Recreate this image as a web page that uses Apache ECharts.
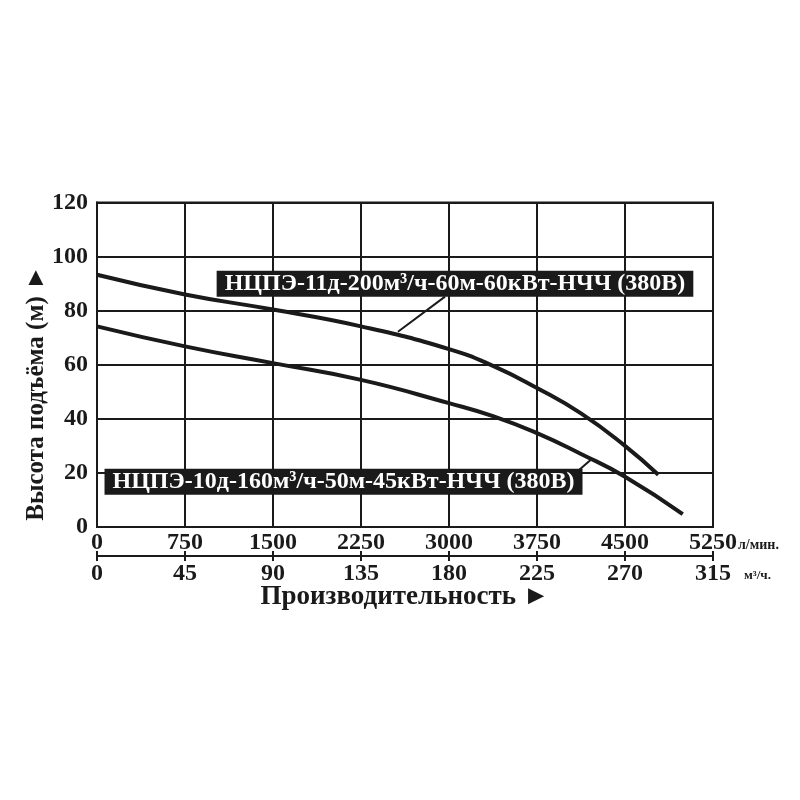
<!DOCTYPE html>
<html>
<head>
    <meta charset="utf-8"/>
    <title>Напорная характеристика</title>
    <script src="https://cdn.jsdelivr.net/npm/echarts@6/dist/echarts.min.js"></script>
    <style>
        html, body { margin: 0; padding: 0; background: #fff; }
        #main { width: 800px; height: 800px; }
    </style>
</head>
<body>
<div id="main"></div>
<script type="text/javascript">

    // расход, л/мин и напор, м
    var pump11Flow = [0, 750, 1500, 2250, 3000, 3375, 3750, 4125, 4500, 4784];
    var pump11Head = [93.3, 86, 80.4, 74.2, 65.8, 59.6, 51.4, 42, 30, 19.3];
    var pump10Flow = [0, 750, 1500, 2250, 3000, 3375, 3750, 4125, 4500, 4992];
    var pump10Head = [74.2, 66.8, 60.6, 54.4, 45.8, 41, 34.7, 27, 18.6, 4.8];

    var pump11Name = 'НЦПЭ-11д-200м³/ч-60м-60кВт-НЧЧ (380В)';
    var pump10Name = 'НЦПЭ-10д-160м³/ч-50м-45кВт-НЧЧ (380В)';
    // где стоит подпись и куда идёт выноска (в единицах осей)
    var pump11Label = [3051, 90];
    var pump11Leader = [[2966, 85.2], [2565, 72.2]];
    var pump10Label = [2101, 16.7];
    var pump10Leader = [[4108, 21.1], [4219, 25.2]];

    var flowTicks = [0, 750, 1500, 2250, 3000, 3750, 4500, 5250];
    var m3Ticks = [0, 45, 90, 135, 180, 225, 270, 315];

    var font = 'Liberation Serif';
    var ink = '#1a1a1a';

    function pairs(xs, ys) {
        return xs.map(function (x, i) { return [x, ys[i]]; });
    }

    function curve(name, xs, ys, labelAt, leader) {
        return {
            type: 'line',
            name: name,
            smooth: 0.5,
            symbol: 'none',
            lineStyle: { color: ink, width: 4 },
            data: pairs(xs, ys),
            markPoint: {
                symbol: 'rect',
                symbolSize: 0,
                silent: true,
                data: [{ coord: labelAt }],
                label: {
                    show: true,
                    position: 'inside',
                    formatter: name,
                    color: '#fff',
                    fontFamily: font,
                    fontWeight: 'bold',
                    fontSize: 24,
                    lineHeight: 24,
                    backgroundColor: ink,
                    padding: [2, 8, 0, 8]
                }
            },
            markLine: {
                symbol: 'none',
                silent: true,
                animation: false,
                lineStyle: { color: ink, width: 2, type: 'solid' },
                label: { show: false },
                data: [[{ coord: leader[0] }, { coord: leader[1] }]]
            }
        };
    }

    var myChart = echarts.init(document.getElementById('main'));

    var tickLabel = {
        color: ink,
        fontFamily: font,
        fontWeight: 'bold',
        fontSize: 24,
        formatter: function (v) { return String(v); }
    };

    myChart.setOption({
        backgroundColor: '#fff',
        animation: false,
        grid: {
            left: 97, right: 87, top: 202.5, bottom: 273,
            show: true, borderColor: ink, borderWidth: 2
        },
        xAxis: [
            {
                type: 'value',
                min: flowTicks[0],
                max: flowTicks[flowTicks.length - 1],
                interval: 750,
                position: 'bottom',
                axisLine: { show: true, lineStyle: { color: ink, width: 2 } },
                axisTick: { show: false },
                splitLine: { show: true, lineStyle: { color: ink, width: 2 } },
                axisLabel: Object.assign({ margin: 4 }, tickLabel)
            },
            {
                type: 'value',
                min: m3Ticks[0],
                max: m3Ticks[m3Ticks.length - 1],
                interval: 45,
                position: 'bottom',
                offset: 29,
                axisLine: { show: true, onZero: false, lineStyle: { color: ink, width: 2 } },
                axisTick: { show: true, length: 5, lineStyle: { color: ink, width: 2 } },
                splitLine: { show: false },
                axisLabel: Object.assign({ margin: 6 }, tickLabel)
            },
            {
                type: 'value',
                min: m3Ticks[0],
                max: m3Ticks[m3Ticks.length - 1],
                interval: 45,
                position: 'bottom',
                offset: 29,
                axisLine: { show: false },
                axisTick: { show: true, inside: true, length: 5, lineStyle: { color: ink, width: 2 } },
                splitLine: { show: false },
                axisLabel: { show: false }
            }
        ],
        yAxis: {
            type: 'value',
            min: 0,
            max: 120,
            interval: 20,
            axisLine: { show: true, lineStyle: { color: ink, width: 2 } },
            axisTick: { show: false },
            splitLine: { show: true, lineStyle: { color: ink, width: 2 } },
            axisLabel: Object.assign({ margin: 9 }, tickLabel)
        },
        series: [
            curve(pump11Name, pump11Flow, pump11Head, pump11Label, pump11Leader),
            curve(pump10Name, pump10Flow, pump10Head, pump10Label, pump10Leader)
        ],
        graphic: [
            {
                type: 'text',
                x: 37, y: 393,
                rotation: Math.PI / 2,
                style: {
                    text: 'Высота подъёма (м) ►',
                    font: 'bold 25px "Liberation Serif"',
                    fill: ink,
                    align: 'center',
                    verticalAlign: 'middle'
                }
            },
            {
                type: 'text',
                x: 405, y: 597,
                style: {
                    text: 'Производительность ►',
                    font: 'bold 27px "Liberation Serif"',
                    fill: ink,
                    align: 'center',
                    verticalAlign: 'middle'
                }
            },
            {
                type: 'text',
                x: 738, y: 545,
                style: {
                    text: 'л/мин.',
                    font: 'bold 14px "Liberation Serif"',
                    fill: ink,
                    align: 'left',
                    verticalAlign: 'middle'
                }
            },
            {
                type: 'text',
                x: 744, y: 576,
                style: {
                    text: 'м³/ч.',
                    font: 'bold 13px "Liberation Serif"',
                    fill: ink,
                    align: 'left',
                    verticalAlign: 'middle'
                }
            }
        ]
    });
</script>
</body>
</html>
